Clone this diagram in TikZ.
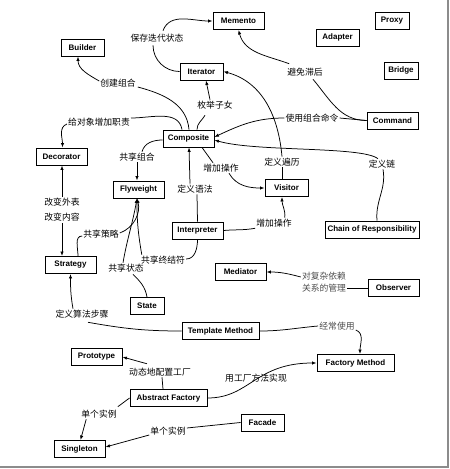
\documentclass[tikz,border=0pt]{standalone}
\usepackage{fontspec}
\setmainfont{Liberation Sans}
\newfontfamily\cjk{Noto Sans CJK SC}
\usetikzlibrary{arrows.meta}
\begin{document}
\begin{tikzpicture}[x=1pt,y=1pt,
  box/.style={draw, line width=0.9pt, minimum height=17pt, inner sep=0pt,
    font=\fontsize{8}{9}\selectfont\bfseries},
  lab/.style={inner sep=1pt, font=\cjk\fontsize{8.8}{11}\selectfont, align=center},
  lab2/.style={lab, font=\cjk\fontsize{8.8}{15}\selectfont},
  labs/.style={lab, text=black!70, font=\cjk\fontsize{8.8}{11.5}\selectfont},
  conn/.style={line width=0.75pt},
  arr/.style={conn, -{Latex[length=4.5pt,width=3.4pt]}}]
\useasboundingbox (0,0) rectangle (450,-469);
% frame shadow
\draw[black!45, line width=1.6pt] (448,0) -- (448,-467) -- (0,-467);
% boxes
\node[box, minimum width=51pt] (memento) at (238.5,-21) {Memento};
\node[box, minimum width=34pt] (proxy) at (392,-20.5) {Proxy};
\node[box, minimum width=43pt] (adapter) at (337.5,-37.5) {Adapter};
\node[box, minimum width=34pt] (bridge) at (401,-70.5) {Bridge};
\node[box, minimum width=51pt] (command) at (392.5,-120.5) {Command};
\node[box, minimum width=43pt] (builder) at (82.5,-47.5) {Builder};
\node[box, minimum width=43pt] (iterator) at (201.5,-71.5) {Iterator};
\node[box, minimum width=51pt] (composite) at (188.5,-138.5) {Composite};
\node[box, minimum width=51pt] (decorator) at (61.5,-156.5) {Decorator};
\node[box, minimum width=51pt] (flyweight) at (138.5,-189.5) {Flyweight};
\node[box, minimum width=51pt] (interpreter) at (197.5,-230.5) {Interpreter};
\node[box, minimum width=51pt] (strategy) at (70.5,-265) {Strategy};
\node[box, minimum width=34pt] (state) at (147,-306) {State};
\node[box, minimum width=43pt] (visitor) at (286.5,-188) {Visitor};
\node[box, minimum width=94pt] (chain) at (372,-229.5) {Chain of Responsibility};
\node[box, minimum width=51pt] (mediator) at (240.5,-272) {Mediator};
\node[box, minimum width=51pt] (observer) at (393.5,-288) {Observer};
\node[box, minimum width=77pt] (template) at (220.5,-331) {Template Method};
\node[box, minimum width=51pt] (prototype) at (96.5,-357) {Prototype};
\node[box, minimum width=77pt] (abstractf) at (168.5,-398) {Abstract Factory};
\node[box, minimum width=77pt] (factorym) at (355.5,-363) {Factory Method};
\node[box, minimum width=51pt] (singleton) at (79.5,-449) {Singleton};
\node[box, minimum width=43pt] (facade) at (262.5,-422.5) {Facade};
% labels
\node[lab] (lsave) at (157,-38) {保存迭代状态};
\node[lab] (lavoid) at (305,-72) {避免滞后};
\node[lab] (lbuild) at (118,-83) {创建组合};
\node[lab] (lenum) at (215,-105) {枚举子女};
\node[lab] (lcmd) at (312,-118) {使用组合命令};
\node[lab] (lresp) at (99,-122) {给对象增加职责};
\node[lab] (lshare) at (137,-157) {共享组合};
\node[lab] (laddopA) at (221,-168) {增加操作};
\node[lab] (ltrav) at (282,-162) {定义遍历};
\node[lab] (lchain) at (382,-164) {定义链};
\node[lab2] (lchange) at (62,-210) {改变外表\\改变内容};
\node[lab] (lgram) at (195,-189) {定义语法};
\node[lab] (laddopB) at (274,-223) {增加操作};
\node[lab] (lstrat) at (101,-234) {共享策略};
\node[lab] (lterm) at (163,-260) {共享终结符};
\node[lab] (lstate) at (126,-268) {共享状态};
\node[labs] (ldep) at (324,-282) {对复杂依赖\\关系的管理};
\node[lab] (lalgo) at (82,-314) {定义算法步骤};
\node[labs] (loften) at (337,-326) {经常使用};
\node[lab] (ldyn) at (160,-372) {动态地配置工厂};
\node[lab] (lfm) at (256,-378) {用工厂方法实现};
\node[lab] (lsingleA) at (99,-414) {单个实例};
\node[lab] (lsingleB) at (168,-431) {单个实例};
% connectors
\draw[conn] (iterator.west) to[out=180,in=-90] ([xshift=-4pt,yshift=-2pt]lsave.south);
\draw[arr] ([xshift=6pt,yshift=2pt]lsave.north) to[out=70,in=180] (memento.west);
\draw[conn] ([xshift=0.5pt]composite.north) to[out=95,in=-15] ([xshift=1pt,yshift=-4pt]lbuild.east);
\draw[arr] ([yshift=2pt]lbuild.west) to[out=150,in=-90] ([xshift=-4.5pt]builder.south);
\draw[conn] ([xshift=8.5pt]composite.north) to[out=90,in=-120] ([xshift=-10pt,yshift=-5pt]lenum.south);
\draw[arr] ([xshift=-5pt]lenum.north) -- ([xshift=4.5pt]iterator.south);
\draw[conn] (command.west) to[out=180,in=-50] ([xshift=8pt,yshift=-2pt]lavoid.south);
\draw[arr] ([xshift=3pt,yshift=3pt]lavoid.north west) to[out=160,in=-75] (memento.south);
\draw[conn] (command.west) -- (lcmd.east);
\draw[arr] (lcmd.west) to[out=180,in=25] ([yshift=1.5pt]composite.east);
\draw[conn] ([xshift=5pt]chain.north) to[out=95,in=-80] ([xshift=1pt]lchain.south);
\draw[arr] ([xshift=-4pt]lchain.north) .. controls (362,-146) and (255,-152) .. ([yshift=-1.5pt]composite.east);
\draw[conn] ([xshift=-4.5pt]visitor.north) -- (ltrav.south);
\draw[arr] (ltrav.north) to[out=95,in=-15] (iterator.east);
\draw[conn] ([xshift=13.5pt]composite.south) -- ([xshift=-8pt]laddopA.north);
\draw[arr] ([xshift=8pt]laddopA.south) to[out=-60,in=180] (visitor.west);
\draw[conn] ([yshift=-1.5pt]composite.west) to[out=180,in=75] ([xshift=5pt]lshare.north);
\draw[arr] (lshare.south) -- (lshare.south |- flyweight.north);
\draw[conn] ([xshift=-6.5pt]composite.north) to[out=100,in=0] ([yshift=4pt]lresp.east);
\draw[arr] ([yshift=-2pt]lresp.west) to[out=200,in=90] ([xshift=1pt]decorator.north);
\draw[conn] (interpreter.north) -- ([xshift=2pt]lgram.south);
\draw[arr] ([xshift=-5pt]lgram.north) -- ([xshift=0.5pt]composite.south);
\draw[conn] (interpreter.east) to[out=5,in=190] (laddopB.south west);
\draw[arr] ([xshift=-8pt]laddopB.north east) to[out=85,in=-90] ([xshift=-4.5pt]visitor.south);
\draw[conn] (interpreter.south) to[out=-90,in=0] ([yshift=1pt]lterm.east);
\draw[arr] ([xshift=2pt]lterm.north west) to[out=100,in=-90] ([xshift=-1.5pt]flyweight.south);
\draw[conn] (state.north) to[out=100,in=-45] ([xshift=7pt,yshift=-1pt]lstate.south);
\draw[arr] ([xshift=-3pt]lstate.north) to[out=80,in=-100] ([xshift=-1.5pt]flyweight.south);
\draw[conn] ([xshift=7.5pt]strategy.north) to[out=90,in=180] ([yshift=-2pt]lstrat.west);
\draw[arr] ([yshift=1pt]lstrat.east) to[out=20,in=-75] ([xshift=-1.5pt]flyweight.south);
\draw[arr] (lchange.north) -- (lchange.north |- decorator.south);
\draw[arr] (lchange.south) -- (lchange.south |- strategy.north);
\draw[conn] (template.west) to[out=180,in=-10] ([xshift=6pt,yshift=-3pt]lalgo.south);
\draw[arr] ([xshift=-9pt]lalgo.north) to[out=100,in=-90] (strategy.south);
\draw[conn] (observer.west) -- (observer.west -| ldep.east);
\draw[arr] ([yshift=5pt]ldep.west) to[out=165,in=0] (mediator.east);
\draw[conn] (template.east) to[out=0,in=185] (loften.west);
\draw[arr] ([yshift=-4pt]loften.east) to[out=-20,in=90] ([xshift=4.5pt]factorym.north);
\draw[arr] (abstractf.east) .. controls (250,-398) and (255,-363) .. (factorym.west);
\draw[conn] ([xshift=-5.5pt]abstractf.north) -- ([xshift=2pt]ldyn.south);
\draw[arr] ([xshift=-13pt,yshift=3pt]ldyn.north) to[out=165,in=-15] (prototype.east);
\draw[conn] (abstractf.west) -- ([yshift=2pt]lsingleA.north east);
\draw[arr] ([xshift=6pt]lsingleA.south west) -- ([xshift=1pt]singleton.north);
\draw[conn] (facade.west) -- ([yshift=3pt]lsingleB.east);
\draw[arr] ([yshift=-4pt]lsingleB.west) -- ([yshift=2pt]singleton.east);
\end{tikzpicture}
\end{document}
